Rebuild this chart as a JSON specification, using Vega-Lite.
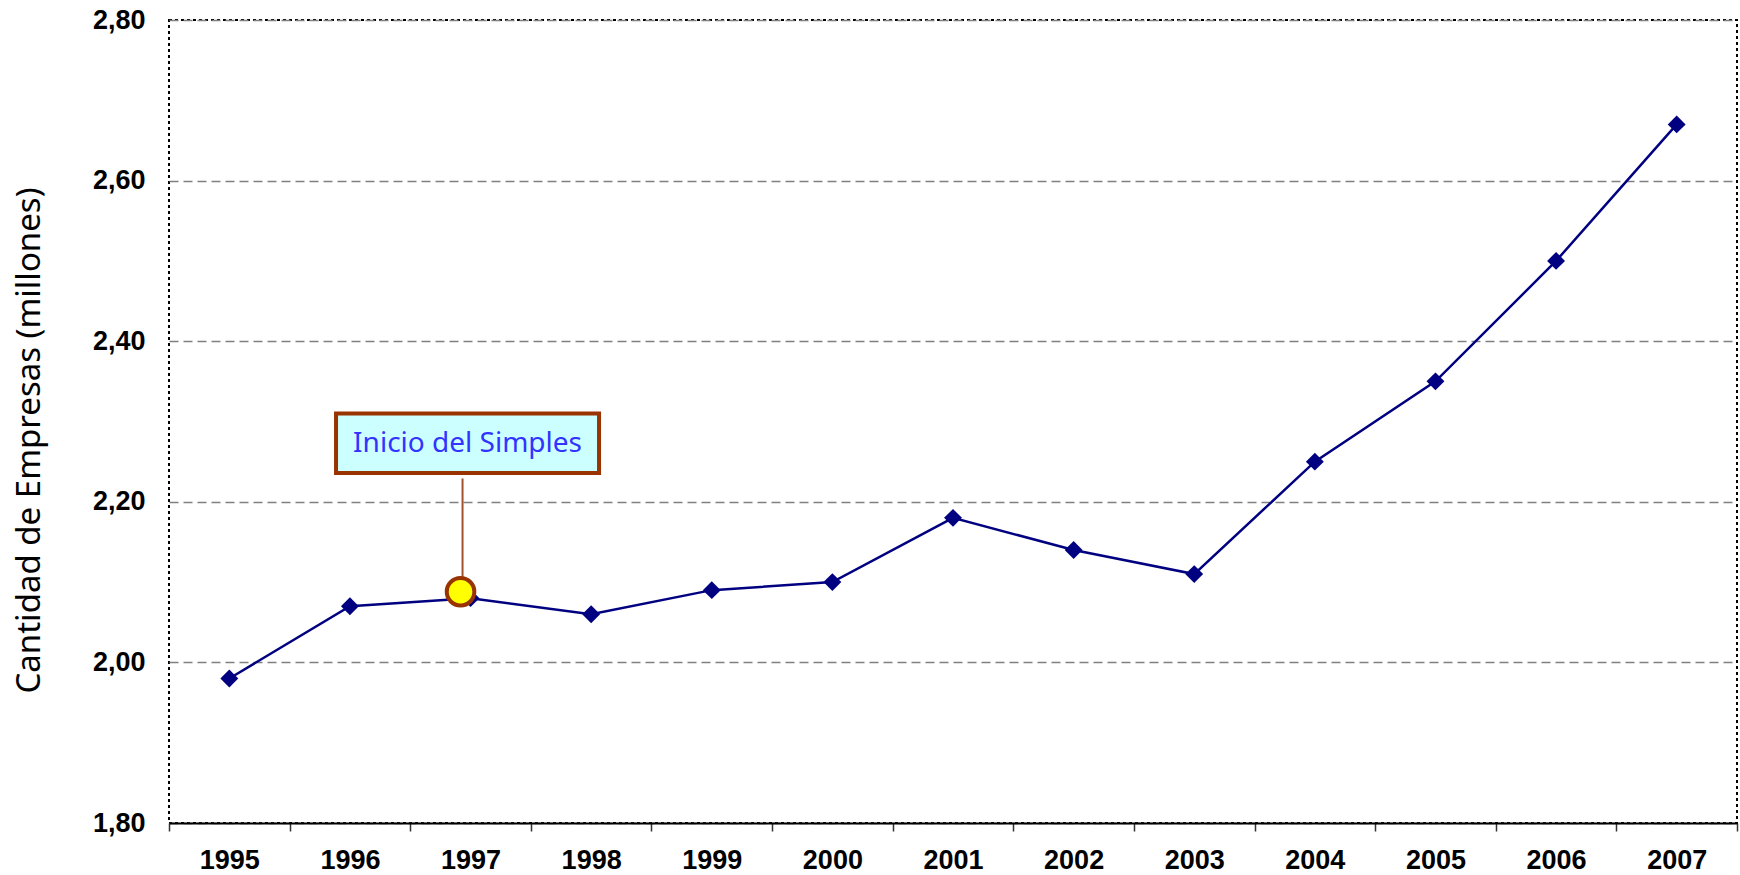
{
  "$schema": "https://vega.github.io/schema/vega-lite/v6.json",
  "width": 1568,
  "height": 803,
  "autosize": {"type": "none"},
  "padding": {"left": 169, "top": 20, "right": 3, "bottom": 52},
  "background": "white",
  "config": {
    "view": {"stroke": "black", "strokeWidth": 2, "strokeDash": [3, 3]}
  },
  "datasets": {
    "series": [
      {"year": "1995", "value": 1.98},
      {"year": "1996", "value": 2.07},
      {"year": "1997", "value": 2.08},
      {"year": "1998", "value": 2.06},
      {"year": "1999", "value": 2.09},
      {"year": "2000", "value": 2.10},
      {"year": "2001", "value": 2.18},
      {"year": "2002", "value": 2.14},
      {"year": "2003", "value": 2.11},
      {"year": "2004", "value": 2.25},
      {"year": "2005", "value": 2.35},
      {"year": "2006", "value": 2.50},
      {"year": "2007", "value": 2.67}
    ],
    "annot": [
      {"year": "1997", "label": "Inicio del Simples", "boxLow": 2.236, "boxHigh": 2.31, "textY": 2.272, "lineTop": 2.229, "lineBottom": 2.107, "marker": 2.088}
    ]
  },
  "encoding": {
    "x": {
      "field": "year",
      "type": "ordinal",
      "bandPosition": 0.5,
      "scale": {"type": "band", "paddingInner": 0, "paddingOuter": 0, "domain": ["1995","1996","1997","1998","1999","2000","2001","2002","2003","2004","2005","2006","2007"]},
      "axis": {
        "title": null,
        "labelAngle": 0,
        "tickBand": "extent",
        "ticks": true,
        "tickSize": 8,
        "tickColor": "#333333",
        "tickWidth": 1.5,
        "domainColor": "black",
        "domainWidth": 2,
        "labelFont": "Liberation Sans",
        "labelFontWeight": "bold",
        "labelFontSize": 27,
        "labelColor": "black",
        "labelPadding": 16,
        "labelBaseline": "top",
        "grid": false
      }
    }
  },
  "layer": [
    {
      "data": {"name": "series"},
      "mark": {"type": "line", "color": "#000080", "strokeWidth": 2.5},
      "encoding": {
        "y": {
          "field": "value",
          "type": "quantitative",
          "scale": {"domain": [1.8, 2.8], "zero": false, "nice": false},
          "axis": {
            "values": [1.8, 2.0, 2.2, 2.4, 2.6, 2.8],
            "labelExpr": "replace(format(datum.value, '.2f'), '.', ',')",
            "domain": false,
            "ticks": false,
            "grid": true,
            "gridColor": "#808080",
            "gridDash": [9, 5],
            "gridWidth": 1.5,
            "labelFont": "Liberation Sans",
            "labelFontWeight": "bold",
            "labelFontSize": 27,
            "labelColor": "black",
            "labelPadding": 24,
            "title": "Cantidad de Empresas (millones)",
            "titleFont": "Noto Sans",
            "titleFontWeight": "normal",
            "titleFontSize": 33,
            "titleColor": "black",
            "titleAngle": -90,
            "titleX": -140,
            "titleY": 420,
            "titleAlign": "center",
            "titleBaseline": "middle"
          }
        }
      }
    },
    {
      "data": {"name": "series"},
      "mark": {"type": "point", "shape": "diamond", "filled": true, "color": "#000080", "size": 320, "opacity": 1},
      "encoding": {"y": {"field": "value", "type": "quantitative"}}
    },
    {
      "data": {"name": "annot"},
      "mark": {"type": "rule", "color": "#A0522D", "strokeWidth": 2, "xOffset": -8},
      "encoding": {
        "y": {"field": "lineTop", "type": "quantitative"},
        "y2": {"field": "lineBottom"}
      }
    },
    {
      "data": {"name": "annot"},
      "mark": {"type": "point", "shape": "circle", "filled": true, "fill": "#FFFF00", "stroke": "#993300", "strokeWidth": 4, "size": 760, "opacity": 1, "xOffset": -10},
      "encoding": {"y": {"field": "marker", "type": "quantitative"}}
    },
    {
      "data": {"name": "annot"},
      "mark": {"type": "bar", "width": 263, "fill": "#CCFFFF", "stroke": "#993300", "strokeWidth": 4, "xOffset": -3},
      "encoding": {
        "y": {"field": "boxLow", "type": "quantitative"},
        "y2": {"field": "boxHigh"}
      }
    },
    {
      "data": {"name": "annot"},
      "mark": {"type": "text", "font": "Noto Sans", "fontSize": 28, "color": "#3333FF", "align": "center", "baseline": "middle", "xOffset": -3},
      "encoding": {
        "y": {"field": "textY", "type": "quantitative"},
        "text": {"field": "label"}
      }
    }
  ]
}
